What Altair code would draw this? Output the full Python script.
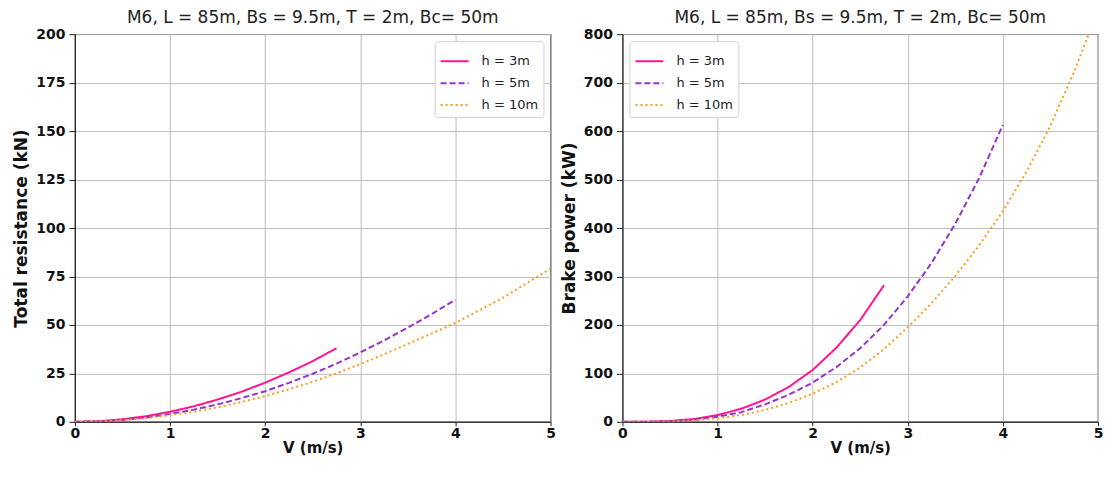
import altair as alt
import pandas as pd

# ---- data ----
series_labels = ["h = 3m", "h = 5m", "h = 10m"]
series_colors = ["#FF1493", "#9932CC", "#FF9A1F"]
series_dashes = [[1, 0], [6, 3], [2, 3]]

speed_3m = [0, 0.25, 0.5, 0.75, 1.0, 1.25, 1.5, 1.75, 2.0, 2.25, 2.5, 2.75]
resist_3m = [0, 0.3, 1.3, 2.9, 5.2, 8.0, 11.5, 15.5, 20.2, 25.5, 31.3, 38.0]
power_3m = [0, 0.2, 1.7, 5.7, 14, 27, 46, 72, 107, 153, 210, 282]

speed_5m = [0, 0.25, 0.5, 0.75, 1.0, 1.25, 1.5, 1.75, 2.0, 2.25, 2.5, 2.75,
            3.0, 3.25, 3.5, 3.75, 4.0]
resist_5m = [0, 0.25, 1.0, 2.25, 4.1, 6.3, 9.0, 12.2, 15.8, 20.1, 24.8, 30.0,
             35.8, 42.0, 48.6, 55.6, 63.0]
power_5m = [0, 0.2, 1.2, 4.2, 10.5, 20, 36, 56, 81, 113, 152, 200,
            259, 328, 409, 503, 613]

speed_10m = [0, 0.25, 0.5, 0.75, 1.0, 1.25, 1.5, 1.75, 2.0, 2.25, 2.5, 2.75,
             3.0, 3.25, 3.5, 3.75, 4.0, 4.25, 4.5, 4.75, 5.0]
resist_10m = [0, 0.2, 0.85, 1.9, 3.4, 5.2, 7.5, 10.2, 13.3, 16.8, 20.7, 25.0,
              29.8, 34.8, 40.2, 45.6, 51.0, 57.5, 64.0, 71.5, 79.0]
power_10m = [0, 0.1, 0.9, 3.0, 7.3, 14, 24.5, 39, 58, 82, 112, 150,
             195, 245, 301, 364, 435, 517, 611, 723, 850]

x_ticks = [0, 1, 2, 3, 4, 5]
r_ticks = [0, 25, 50, 75, 100, 125, 150, 175, 200]
p_ticks = [0, 100, 200, 300, 400, 500, 600, 700, 800]

title_text = "M6, L = 85m, Bs = 9.5m, T = 2m, Bc= 50m"

rows = []
for lab, vs, rs, ps in [
    (series_labels[0], speed_3m, resist_3m, power_3m),
    (series_labels[1], speed_5m, resist_5m, power_5m),
    (series_labels[2], speed_10m, resist_10m, power_10m),
]:
    for i, (v, r, p) in enumerate(zip(vs, rs, ps)):
        rows.append({"V": v, "R": r, "P": p, "series": lab, "order": i})
df = pd.DataFrame(rows)

FONT = "DejaVu Sans"


def legend(orient, offset):
    return alt.Legend(
        title=None,
        orient=orient,
        offset=offset,
        symbolType="stroke",
        symbolSize=784,
        symbolStrokeWidth=2,
        labelFont=FONT,
        labelFontSize=13,
        labelColor="#222222",
        labelOffset=12,
        rowPadding=-1,
        padding=5,
        strokeColor="#d0d0d0",
        fillColor="white",
        cornerRadius=3,
    )


def panel(field, ytitle, ydomain, yticks, orient, loff, toff):
    return (
        alt.Chart(df)
        .mark_line(strokeWidth=2, clip=True)
        .encode(
            x=alt.X("V:Q", title="V (m/s)",
                    scale=alt.Scale(domain=[0, 5], nice=False),
                    axis=alt.Axis(values=x_ticks, format="d")),
            y=alt.Y(f"{field}:Q", title=ytitle,
                    scale=alt.Scale(domain=ydomain, nice=False),
                    axis=alt.Axis(values=yticks, format="d")),
            color=alt.Color("series:N", sort=series_labels,
                            scale=alt.Scale(domain=series_labels, range=series_colors),
                            legend=legend(orient, loff)),
            strokeDash=alt.StrokeDash("series:N", sort=series_labels,
                                      scale=alt.Scale(domain=series_labels, range=series_dashes),
                                      legend=legend(orient, loff)),
            order="order:Q",
        )
        .properties(
            width=476,
            height=388,
            title=alt.TitleParams(title_text, font=FONT, fontSize=17,
                                  fontWeight="normal", color="#222222",
                                  offset=toff, frame="group"),
        )
    )


left = panel("R", "Total resistance (kN)", [0, 200], r_ticks, "top-right", 7, 0)
right = panel("P", "Brake power (kW)", [0, 800], p_ticks, "top-left", 7, 0)

chart = (
    alt.hconcat(left, right, spacing=3)
    .resolve_scale(color="independent", strokeDash="independent")
    .properties(padding={"left": 4, "top": 0, "right": 0, "bottom": 0})
    .configure_view(stroke="#222222", strokeWidth=1.2)
    .configure_axis(
        grid=True,
        gridColor="#bdbdbd",
        gridWidth=1,
        domainColor="#222222",
        tickColor="#222222",
        tickSize=6,
        labelFont=FONT,
        labelFontSize=14,
        labelFontWeight="bold",
        labelColor="#111111",
        labelPadding=4,
        titleFont=FONT,
        titleFontSize=17,
        titleFontWeight="bold",
        titleColor="#111111",
        titlePadding=5,
    )
    .configure_axisX(labelFlush=False, tickSize=4, labelPadding=1,
                     titlePadding=0, titleFontSize=15)
    .configure_axisY(labelFlush=False)
)

chart.save("out.html", embed_options={"renderer": "svg", "actions": False})
